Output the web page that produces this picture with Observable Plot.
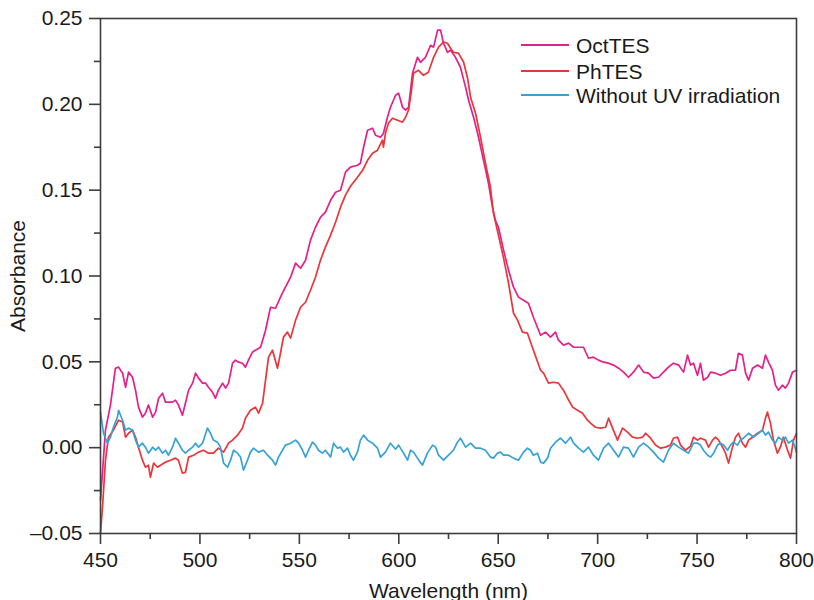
<!DOCTYPE html>
<html>
<head>
<meta charset="utf-8">
<script src="https://cdn.jsdelivr.net/npm/d3@7"></script>
<script src="https://cdn.jsdelivr.net/npm/@observablehq/plot@0.6"></script>
<style>
  body { margin: 0; background: #fff; }
  #chart { width: 814px; height: 600px; }
</style>
</head>
<body>
<div id="chart"></div>
<script>
// Absorption spectra (absorbance vs wavelength, nm)
const seriesNames = ["OctTES", "PhTES", "Without UV irradiation"];
const seriesColors = ["#e4208c", "#e8363b", "#36a2d6"];

const octWl = [450.0,452.5,455.0,457.5,459.1,461.1,462.6,464.1,466.1,467.6,
  469.1,471.1,472.6,474.1,476.2,477.7,479.2,481.2,482.7,484.2,
  486.2,487.7,489.2,491.2,492.7,494.3,496.3,497.8,499.3,501.3,
  502.8,504.3,506.3,507.8,509.3,511.4,512.9,514.4,516.4,517.9,
  519.4,521.4,522.9,524.4,526.4,527.9,530.5,533.0,535.5,538.0,
  540.5,543.0,545.6,548.1,550.6,553.1,555.6,558.1,560.6,563.1,
  565.7,568.2,570.7,573.2,575.7,579.2,580.7,582.3,584.3,586.8,
  588.3,590.8,592.3,594.3,595.8,598.4,599.9,601.9,603.4,604.9,
  606.9,609.4,610.9,613.4,616.0,617.5,619.5,621.0,622.5,624.5,
  626.0,628.5,631.0,633.6,635.1,637.6,640.1,642.6,645.1,647.1,
  648.6,650.1,652.7,655.2,657.7,660.2,662.7,665.2,667.7,671.3,
  673.8,676.3,678.8,680.3,682.8,685.4,687.9,690.4,692.9,695.4,
  697.9,700.4,703.0,705.5,708.0,710.5,713.0,715.5,718.0,720.6,
  723.1,725.6,728.1,730.6,733.1,735.6,738.1,740.7,743.2,745.2,
  746.7,748.2,750.2,751.7,753.2,755.3,756.8,759.3,761.8,764.3,
  766.8,769.3,770.8,772.8,774.4,775.9,777.9,780.4,782.9,784.4,
  785.9,787.9,789.4,790.9,792.9,794.4,796.0,798.0,800.0];
const octAbs = [-0.0306,0.0102,0.0248,0.0463,0.0469,0.0434,0.0352,0.0440,0.0410,0.0335,
  0.0236,0.0178,0.0201,0.0248,0.0178,0.0207,0.0288,0.0317,0.0265,0.0265,
  0.0265,0.0277,0.0248,0.0189,0.0259,0.0335,0.0376,0.0434,0.0405,0.0376,
  0.0376,0.0352,0.0323,0.0288,0.0335,0.0376,0.0347,0.0376,0.0492,0.0510,
  0.0498,0.0492,0.0469,0.0510,0.0556,0.0568,0.0585,0.0684,0.0818,0.0812,
  0.0877,0.0935,0.0993,0.1075,0.1045,0.1092,0.1209,0.1284,0.1342,0.1372,
  0.1441,0.1488,0.1500,0.1605,0.1634,0.1645,0.1657,0.1750,0.1849,0.1861,
  0.1820,0.1808,0.1832,0.1925,0.1983,0.2053,0.2065,0.1983,0.1966,0.1983,
  0.2181,0.2274,0.2245,0.2274,0.2344,0.2333,0.2432,0.2432,0.2356,0.2303,
  0.2315,0.2274,0.2216,0.2099,0.2024,0.1925,0.1808,0.1674,0.1540,0.1401,
  0.1325,0.1284,0.1150,0.1034,0.0935,0.0877,0.0859,0.0841,0.0760,0.0655,
  0.0673,0.0644,0.0673,0.0626,0.0597,0.0609,0.0585,0.0585,0.0585,0.0521,
  0.0527,0.0510,0.0498,0.0492,0.0481,0.0463,0.0440,0.0410,0.0440,0.0481,
  0.0440,0.0434,0.0405,0.0410,0.0440,0.0469,0.0492,0.0481,0.0440,0.0539,
  0.0481,0.0492,0.0422,0.0492,0.0393,0.0410,0.0440,0.0434,0.0422,0.0434,
  0.0451,0.0451,0.0550,0.0539,0.0434,0.0393,0.0463,0.0481,0.0463,0.0539,
  0.0498,0.0451,0.0364,0.0335,0.0364,0.0347,0.0376,0.0440,0.0451];

const phWl = [450.0,451.0,452.5,454.0,456.5,459.1,461.1,462.6,464.1,466.1,
  467.6,469.1,471.1,472.6,474.1,475.1,476.7,478.7,480.2,482.7,
  485.2,487.7,489.2,491.2,492.7,494.3,496.8,499.3,501.8,504.3,
  506.8,509.3,511.9,514.4,516.4,518.9,521.4,522.9,525.4,527.9,
  529.5,531.5,533.0,534.5,536.5,539.0,540.5,542.0,544.0,545.6,
  548.1,550.6,553.1,555.6,558.1,560.6,563.1,565.7,568.2,570.7,
  573.2,575.7,579.2,581.8,584.3,586.8,589.3,591.8,592.3,593.3,
  594.8,596.8,599.4,601.9,603.4,604.9,606.4,607.4,609.9,612.4,
  614.9,617.5,620.0,622.5,624.5,626.0,627.5,630.0,632.6,634.6,
  636.1,638.6,641.1,643.6,646.1,647.6,650.1,652.7,655.2,657.7,
  659.7,662.2,664.7,667.7,671.3,672.8,675.3,677.8,680.3,682.8,
  684.9,687.4,689.9,692.4,694.9,696.4,698.9,701.4,704.0,705.5,
  707.5,710.0,712.5,715.0,717.5,720.0,722.6,724.1,726.6,729.1,
  731.6,734.1,736.6,738.1,740.2,741.7,744.2,746.7,748.2,750.2,
  751.7,754.2,755.8,757.8,759.3,760.8,762.8,764.3,765.8,767.8,
  769.3,770.8,772.8,774.4,775.9,777.9,780.4,782.9,784.4,785.4,
  786.9,788.4,790.4,791.9,793.4,795.5,797.0,798.5,800.0];
const phAbs = [-0.0498,-0.0347,-0.0073,0.0061,0.0102,0.0160,0.0149,0.0061,0.0084,0.0102,
  0.0061,0.0003,-0.0073,-0.0114,-0.0102,-0.0172,-0.0090,-0.0114,-0.0102,-0.0084,
  -0.0073,-0.0061,-0.0073,-0.0149,-0.0143,-0.0055,-0.0044,-0.0026,-0.0015,-0.0032,
  -0.0032,-0.0003,-0.0026,0.0026,0.0044,0.0073,0.0114,0.0172,0.0218,0.0236,
  0.0201,0.0259,0.0393,0.0527,0.0568,0.0463,0.0550,0.0644,0.0673,0.0638,
  0.0743,0.0818,0.0847,0.0917,0.0993,0.1092,0.1168,0.1238,0.1313,0.1401,
  0.1471,0.1523,0.1575,0.1616,0.1674,0.1715,0.1733,0.1791,0.1750,0.1832,
  0.1890,0.1919,0.1907,0.1896,0.1925,0.1966,0.2082,0.2181,0.2198,0.2169,
  0.2187,0.2274,0.2333,0.2362,0.2356,0.2327,0.2303,0.2298,0.2245,0.2152,
  0.2041,0.1948,0.1808,0.1657,0.1517,0.1366,0.1238,0.1104,0.0958,0.0783,
  0.0743,0.0673,0.0667,0.0568,0.0451,0.0434,0.0376,0.0381,0.0376,0.0335,
  0.0288,0.0236,0.0218,0.0201,0.0160,0.0143,0.0119,0.0114,0.0119,0.0172,
  0.0114,0.0044,0.0114,0.0090,0.0061,0.0055,0.0061,0.0084,0.0055,0.0015,
  -0.0003,0.0003,0.0015,0.0055,0.0061,0.0015,-0.0015,0.0009,0.0061,0.0044,
  0.0055,0.0044,0.0003,0.0044,0.0061,0.0044,0.0003,-0.0032,-0.0090,0.0003,
  0.0061,0.0084,0.0026,0.0003,0.0044,0.0061,0.0084,0.0102,0.0172,0.0207,
  0.0143,0.0044,-0.0032,0.0003,0.0061,-0.0015,-0.0061,0.0044,0.0084];

const uvWl = [450.0,451.5,453.5,455.0,456.5,458.5,459.1,461.1,462.6,464.1,
  466.1,467.6,469.1,471.1,472.6,474.1,476.2,477.7,479.2,481.2,
  482.7,484.2,486.2,487.7,489.2,491.2,492.7,494.3,496.3,497.8,
  499.3,501.3,503.8,505.3,506.8,508.8,510.3,511.9,513.9,515.4,
  516.9,518.9,520.4,521.9,523.9,525.4,526.9,529.5,532.0,534.0,
  536.5,538.0,539.5,541.5,543.0,545.6,548.1,549.6,551.6,553.1,
  554.6,556.6,558.1,559.6,561.6,563.1,565.7,567.2,569.2,570.7,
  572.2,574.2,575.7,577.2,579.2,580.7,582.3,584.3,586.8,589.3,
  590.8,593.3,595.8,598.4,599.9,602.4,604.4,605.9,607.4,609.4,
  611.9,614.4,617.0,618.5,620.0,622.5,625.0,627.5,629.5,631.0,
  633.6,636.1,638.6,641.1,643.6,646.1,647.6,649.6,651.1,652.7,
  655.2,657.7,660.2,662.7,664.7,666.2,667.7,669.8,671.3,672.8,
  674.8,676.3,678.8,681.3,683.8,686.4,687.9,690.4,692.9,695.4,
  697.9,700.4,703.0,705.5,708.0,710.5,713.0,715.5,718.0,720.6,
  723.1,725.6,728.1,730.6,733.1,735.6,738.1,740.7,743.2,745.7,
  748.2,750.2,751.7,753.2,755.3,756.8,758.3,760.3,761.8,763.3,
  765.3,766.8,768.3,770.3,771.8,773.3,775.9,778.4,780.9,782.9,
  784.4,785.9,787.9,789.4,790.9,792.9,794.4,796.0,798.0,800.0];
const uvAbs = [0.0207,0.0084,0.0026,0.0061,0.0119,0.0178,0.0218,0.0160,0.0102,0.0114,
  0.0102,0.0044,0.0003,0.0026,0.0003,-0.0032,0.0003,-0.0015,0.0003,-0.0032,
  -0.0015,-0.0044,0.0003,0.0055,0.0026,-0.0015,-0.0032,-0.0015,0.0003,0.0026,
  0.0003,0.0026,0.0114,0.0084,0.0044,0.0032,0.0003,-0.0090,-0.0114,-0.0073,
  -0.0015,-0.0032,-0.0055,-0.0131,-0.0073,-0.0026,-0.0003,-0.0026,-0.0015,-0.0044,
  -0.0073,-0.0102,-0.0055,-0.0015,0.0015,0.0026,0.0044,0.0026,-0.0015,-0.0055,
  -0.0015,0.0032,0.0015,-0.0015,-0.0032,-0.0015,-0.0055,0.0026,-0.0003,0.0003,
  -0.0026,-0.0003,-0.0044,-0.0073,-0.0026,0.0044,0.0073,0.0044,0.0026,-0.0003,
  -0.0055,-0.0026,0.0026,-0.0009,0.0015,-0.0032,-0.0073,-0.0015,-0.0026,-0.0061,
  -0.0102,-0.0032,0.0015,0.0003,-0.0044,-0.0073,-0.0044,-0.0015,0.0032,0.0055,
  0.0003,0.0026,-0.0003,-0.0003,-0.0015,-0.0055,-0.0061,-0.0032,-0.0026,-0.0044,
  -0.0044,-0.0061,-0.0073,-0.0026,-0.0003,-0.0015,-0.0044,-0.0032,-0.0084,-0.0090,
  -0.0061,-0.0003,0.0032,0.0055,0.0026,0.0061,0.0026,-0.0003,-0.0026,0.0003,
  -0.0044,-0.0073,-0.0003,0.0026,-0.0015,-0.0055,0.0003,-0.0003,-0.0055,0.0003,
  0.0026,0.0003,-0.0026,-0.0061,-0.0084,-0.0015,0.0026,0.0003,-0.0015,-0.0032,
  0.0026,0.0026,0.0015,-0.0015,-0.0044,-0.0055,-0.0032,0.0015,0.0026,0.0015,
  -0.0015,0.0015,0.0032,0.0015,0.0044,0.0055,0.0084,0.0061,0.0084,0.0102,
  0.0073,0.0090,0.0044,0.0026,0.0061,0.0044,0.0061,0.0026,0.0044,-0.0026];

// Axis ticks
const xMajor = [450, 500, 550, 600, 650, 700, 750, 800];
const xMinor = [475, 525, 575, 625, 675, 725, 775];
const yMajor = [-0.05, 0.00, 0.05, 0.10, 0.15, 0.20, 0.25];
const yMinor = [-0.025, 0.025, 0.075, 0.125, 0.175, 0.225];

const font = "'Liberation Sans', Arial, Helvetica, sans-serif";
const axisColor = "#3d3d3d";
const fmt = d => (d < 0 ? "\u2013" : "") + Math.abs(d).toFixed(2);
const rows = (wl, ab) => wl.map((w, i) => ({wl: w, abs: ab[i]}));

const spectra = [rows(octWl, octAbs), rows(phWl, phAbs), rows(uvWl, uvAbs)];

const chart = Plot.plot({
  width: 814,
  height: 600,
  marginLeft: 100,
  marginRight: 18,
  marginTop: 18,
  marginBottom: 67,
  style: {fontFamily: font, fontSize: "21px", color: "#1a1a1a", background: "#fff"},
  x: {domain: [450, 800]},
  y: {domain: [-0.05, 0.25]},
  marks: [
    ...spectra.map((d, i) => Plot.line(d, {x: "wl", y: "abs", stroke: seriesColors[i], strokeWidth: 1.7, strokeLinejoin: "round"})),
    Plot.frame({stroke: axisColor, strokeWidth: 1.6}),
    Plot.axisX(xMajor, {tickSize: 11, tickPadding: 8, stroke: axisColor, strokeWidth: 1.6,
      tickFormat: d => String(d), label: "Wavelength (nm)", labelAnchor: "center", labelArrow: "none"}),
    Plot.axisX(xMinor, {tickSize: 6, stroke: axisColor, strokeWidth: 1.6, tickFormat: () => "", label: null}),
    Plot.axisY(yMajor, {tickSize: 11, tickPadding: 7, stroke: axisColor, strokeWidth: 1.6,
      tickFormat: fmt, label: "Absorbance", labelAnchor: "center", labelArrow: "none", labelOffset: 90}),
    Plot.axisY(yMinor, {tickSize: 6, stroke: axisColor, strokeWidth: 1.6, tickFormat: () => "", label: null})
  ]
});

// Legend in the upper right of the plot area
const legendX = 521, legendLen = 48, legendGap = 7;
const legendY = [45, 71, 95];
const lg = d3.select(chart).append("g")
  .attr("font-family", font)
  .attr("font-size", 21)
  .attr("text-anchor", "start")
  .attr("fill", "#1a1a1a");
seriesNames.forEach((name, i) => {
  lg.append("line")
    .attr("x1", legendX).attr("x2", legendX + legendLen)
    .attr("y1", legendY[i]).attr("y2", legendY[i])
    .attr("stroke", seriesColors[i]).attr("stroke-width", 2);
  lg.append("text")
    .attr("x", legendX + legendLen + legendGap)
    .attr("y", legendY[i])
    .attr("dy", "0.36em")
    .attr("text-anchor", "start")
    .text(name);
});

document.getElementById("chart").appendChild(chart);
</script>
</body>
</html>
